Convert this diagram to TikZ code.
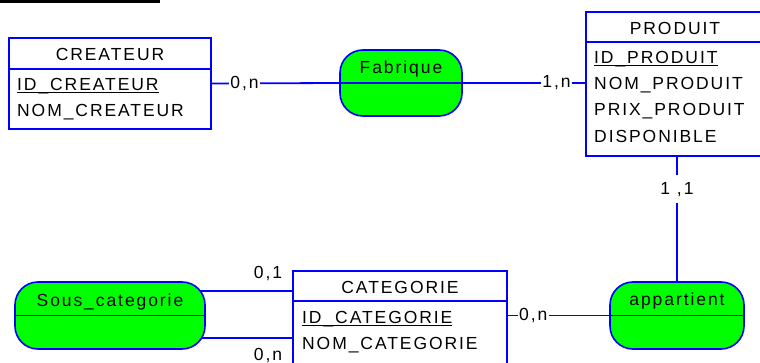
\documentclass[tikz,border=0pt]{standalone}
\usepackage{fontspec}
\setmainfont{Liberation Sans}
\newfontfamily\diafont[LetterSpace=11]{Liberation Sans}
\usetikzlibrary{calc,backgrounds}
\definecolor{mcdblue}{RGB}{0,0,255}
\definecolor{mcdgreen}{RGB}{0,255,0}
\newcommand\idul[1]{\setbox0\hbox{#1}\rlap{\rule[-2.5pt]{\wd0}{1.3pt}}\box0}
\tikzset{
  entbox/.style={draw=mcdblue, line width=1.8pt, fill=white, rectangle, inner sep=0pt},
  relbox/.style={draw=mcdblue, line width=1.6pt, fill=mcdgreen, rectangle, rounded corners=23pt, inner sep=0pt},
  txt/.style={inner sep=0pt, font=\diafont\fontsize{17.5}{19}\selectfont, text=black},
  card/.style={txt, fill=white, inner xsep=1.5pt, inner ysep=2pt},
  link/.style={draw=mcdblue, line width=1.8pt},
  divider/.style={draw=mcdblue, line width=1.8pt},
}
\begin{document}
\begin{tikzpicture}[x=1pt,y=-1pt]
\useasboundingbox (0,0) rectangle (760,363);
\draw[line width=3pt] (0,1.5) -- (160,1.5);

% entities
\node[entbox, minimum width=202pt, minimum height=91pt] (createur) at (110,83.5) {};
\draw[divider] ($(createur.north west)+(0,32)$) -- ($(createur.north east)+(0,32)$);
\node[txt, anchor=base] (createurT) at (110,60.5) {CREATEUR};
\node[txt, anchor=base west] (createurA) at (17,91) {\idul{ID\_CREATEUR}};
\node[txt, anchor=base west] (createurB) at (17,116.5) {NOM\_CREATEUR};

\node[entbox, minimum width=179pt, minimum height=144pt] (prod) at (675.5,84) {};
\draw[divider] ($(prod.north west)+(0,31)$) -- ($(prod.north east)+(0,31)$);
\node[txt, anchor=base] (prodT) at (675,34.5) {PRODUIT};
\node[txt, anchor=base west] (prodA) at (594,63.5) {\idul{ID\_PRODUIT}};
\node[txt, anchor=base west] (prodB) at (594,90) {NOM\_PRODUIT};
\node[txt, anchor=base west] (prodC) at (594,116) {PRIX\_PRODUIT};
\node[txt, anchor=base west] (prodD) at (594,142.5) {DISPONIBLE};

\node[entbox, minimum width=214pt, minimum height=95pt] (cat) at (400,318.5) {};
\draw[divider] ($(cat.north west)+(0,31)$) -- ($(cat.north east)+(0,31)$);
\node[txt, anchor=base] (catT) at (400,293.5) {CATEGORIE};
\node[txt, anchor=base west] (catA) at (302,323.5) {\idul{ID\_CATEGORIE}};
\node[txt, anchor=base west] (catB) at (302,349) {NOM\_CATEGORIE};

% relationships
\node[relbox, minimum width=122pt, minimum height=66pt] (fab) at (401,83) {};
\draw[divider] (fab.west) -- (fab.east);
\node[txt, anchor=base] (fabT) at (401,73.5) {Fabrique};

\node[relbox, minimum width=134pt, minimum height=67pt] (app) at (677,315.5) {};
\draw[divider] (app.west) -- (app.east);
\node[txt, anchor=base] (appT) at (677,305.5) {appartient};

\node[relbox, minimum width=190pt, minimum height=67pt] (sous) at (110,315.5) {};
\draw[divider] (sous.west) -- (sous.east);
\node[txt, anchor=base] (sousT) at (110,306) {Sous\_categorie};

% connectors
\draw[link] (createur.east) -- node[card, pos=0.256] (k1) {0,n} (fab.west);
\draw[link] (fab.east) -- node[card, pos=0.766] (k2) {1,n} (fab.east -| prod.west);
\draw[link] (app.north |- prod.south) -- node[card, pos=0.26, minimum height=28pt] (k3) {1 ,1} (app.north);
\draw[link] (app.west -| cat.east) -- node[card, pos=0.25] (k4) {0,n} (app.west);

\coordinate (s1) at ($(sous.center)+(0,-24.5)$);
\coordinate (s2) at ($(sous.center)+(0,22.5)$);
\begin{pgfonlayer}{background}
  \fill[white] (0,0) rectangle (760,363);
  \draw[link] (s1) -- (s1 -| cat.west);
  \draw[link] (s2) -- (s2 -| cat.west);
\end{pgfonlayer}
\node[txt, anchor=base] (k5) at (268,279) {0,1};
\node[txt, anchor=base] (k6) at (268,360) {0,n};
\end{tikzpicture}
\end{document}
